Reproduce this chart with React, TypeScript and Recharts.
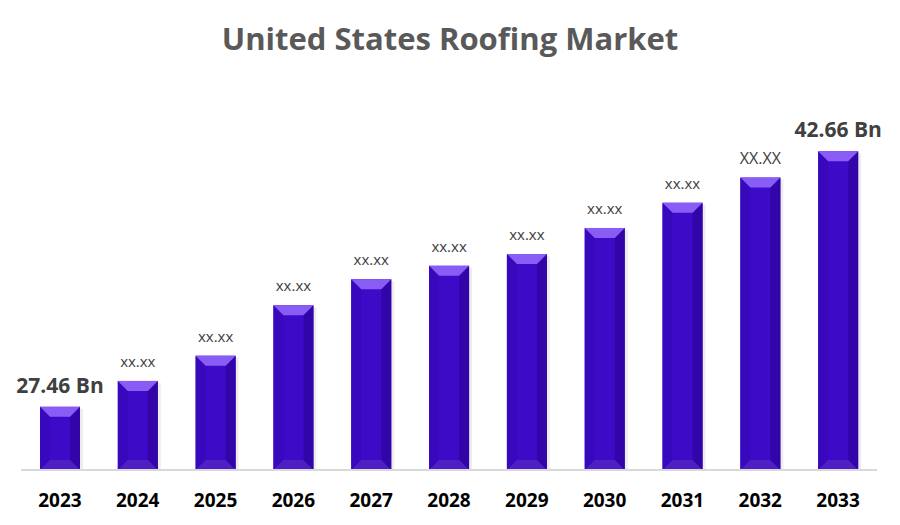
import { BarChart, Bar, XAxis, YAxis, LabelList } from 'recharts';

const years = ['2023', '2024', '2025', '2026', '2027', '2028', '2029', '2030', '2031', '2032', '2033'];
const marketSize = [27.46, 29.0, 30.5, 33.5, 35.05, 35.85, 36.55, 38.1, 39.6, 41.1, 42.66];
const valueLabels = ['27.46 Bn', 'xx.xx', 'xx.xx', 'xx.xx', 'xx.xx', 'xx.xx', 'xx.xx', 'xx.xx', 'xx.xx', 'XX.XX', '42.66 Bn'];

const data = years.map((year, i) => ({ year, value: marketSize[i], label: valueLabels[i] }));

const FONT = '"Open Sans", "Noto Sans", sans-serif';

// bevelled bar: light top cap, darker right edge, soft bottom
function BevelBar(props: any) {
  const { x, y, width: w, height: h } = props;
  if (!h || h <= 0) return null;
  const b = Math.min(10, h / 2);
  return (
    <g>
      <rect x={x + w} y={y + 2} width={3} height={h - 2} fill="rgba(0,0,0,0.07)" />
      <rect x={x} y={y} width={w} height={h} fill="#3D0BC8" />
      <polygon points={`${x},${y} ${x + b},${y + b} ${x + b},${y + h - b} ${x},${y + h}`} fill="#3808BD" />
      <polygon points={`${x + w},${y} ${x + w - b},${y + b} ${x + w - b},${y + h - b} ${x + w},${y + h}`} fill="#3205A8" />
      <polygon points={`${x},${y + h} ${x + w},${y + h} ${x + w - b},${y + h - b} ${x + b},${y + h - b}`} fill="#4E20C4" />
      <polygon points={`${x},${y} ${x + w},${y} ${x + w - b},${y + b} ${x + b},${y + b}`} fill="#8A5CF6" />
    </g>
  );
}

function ValueLabel(props: any) {
  const { x, y, width, value, index } = props;
  const edge = index === 0 || index === years.length - 1;
  const size = edge ? 21 : index === years.length - 2 ? 16 : 15;
  return (
    <text
      x={x + width / 2}
      y={y - 14}
      textAnchor="middle"
      fontFamily={FONT}
      fontSize={size}
      fontWeight={edge ? 700 : 400}
      fill="#404040"
    >
      {value}
    </text>
  );
}

function YearTick(props: any) {
  const { x, y, payload } = props;
  return (
    <text x={x} y={y + 29} textAnchor="middle" fontFamily={FONT} fontSize={19} fontWeight={700} fill="#000">
      {payload.value}
    </text>
  );
}

export default function App() {
  return (
    <div style={{ position: 'absolute', left: 0, top: 0, width: 900, height: 525, background: '#fff' }}>
      <div
        style={{
          position: 'absolute',
          top: 17,
          left: 0,
          width: 900,
          textAlign: 'center',
          fontFamily: FONT,
          fontWeight: 700,
          fontSize: 31,
          color: '#595959',
        }}
      >
        United States Roofing Market
      </div>
      <BarChart width={900} height={525} data={data} margin={{ top: 112, right: 23, left: 21, bottom: 25 }}>
        <XAxis
          dataKey="year"
          height={30}
          tickLine={false}
          axisLine={{ stroke: '#d9d9d9', strokeWidth: 2 }}
          tick={<YearTick />}
          interval={0}
        />
        <YAxis hide domain={[23.7, 45]} allowDataOverflow />
        <Bar dataKey="value" barSize={40} shape={<BevelBar />} isAnimationActive={false}>
          <LabelList dataKey="label" content={<ValueLabel />} />
        </Bar>
      </BarChart>
    </div>
  );
}
